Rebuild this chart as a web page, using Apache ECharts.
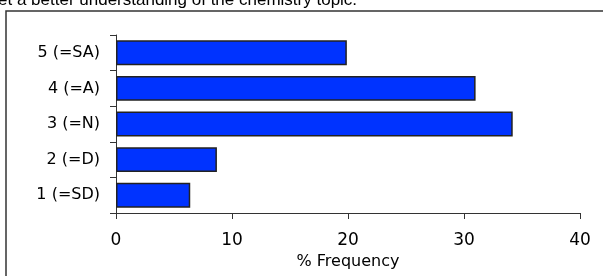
<!DOCTYPE html>
<html>
<head>
<meta charset="utf-8">
<script src="https://cdn.jsdelivr.net/npm/echarts@6/dist/echarts.min.js"></script>
<style>
  html, body { margin: 0; padding: 0; background: #fff; }
  #chart { width: 603px; height: 276px; }
</style>
</head>
<body>
<div id="chart"></div>
<script>
  // answers from bottom to top of the axis
  const categories = ['1 (=SD)', '2 (=D)', '3 (=N)', '4 (=A)', '5 (=SA)'];
  const frequency = [6.4, 8.7, 34.2, 31.0, 19.9];
  const xTicks = [0, 10, 20, 30, 40];

  const chart = echarts.init(document.getElementById('chart'));
  chart.setOption({
    animation: false,
    graphic: [
      {
        type: 'text',
        left: -2,
        top: -8,
        style: {
          text: 'et a better understanding of the chemistry topic.',
          font: '17px "Liberation Sans", Arial, sans-serif',
          fill: '#000'
        }
      },
      {
        type: 'rect',
        shape: { x: 6, y: 11, width: 700, height: 400 },
        style: { fill: 'none', stroke: '#333', lineWidth: 1.5 }
      }
    ],
    grid: { left: 116, right: 23, top: 35, bottom: 63 },
    xAxis: {
      type: 'value',
      min: xTicks[0],
      max: xTicks[xTicks.length - 1],
      interval: 10,
      name: '% Frequency',
      nameLocation: 'middle',
      nameGap: 31,
      nameTextStyle: { fontFamily: 'DejaVu Sans', fontSize: 16, color: '#000' },
      axisLine: { show: true, lineStyle: { color: '#333', width: 1 } },
      axisTick: { show: true, length: 6, lineStyle: { color: '#333' } },
      axisLabel: { margin: 19, fontFamily: 'DejaVu Sans', fontSize: 17, color: '#000' },
      splitLine: { show: false }
    },
    yAxis: {
      type: 'category',
      data: categories,
      axisLine: { show: true, lineStyle: { color: '#333', width: 1 } },
      axisTick: { show: true, length: 6, lineStyle: { color: '#333' } },
      axisLabel: { margin: 16, fontFamily: 'DejaVu Sans', fontSize: 16, color: '#000' }
    },
    series: [{
      type: 'bar',
      data: frequency,
      barCategoryGap: '30%',
      itemStyle: { color: '#0033ff', borderColor: '#222', borderWidth: 1.5 }
    }]
  });
</script>
</body>
</html>
